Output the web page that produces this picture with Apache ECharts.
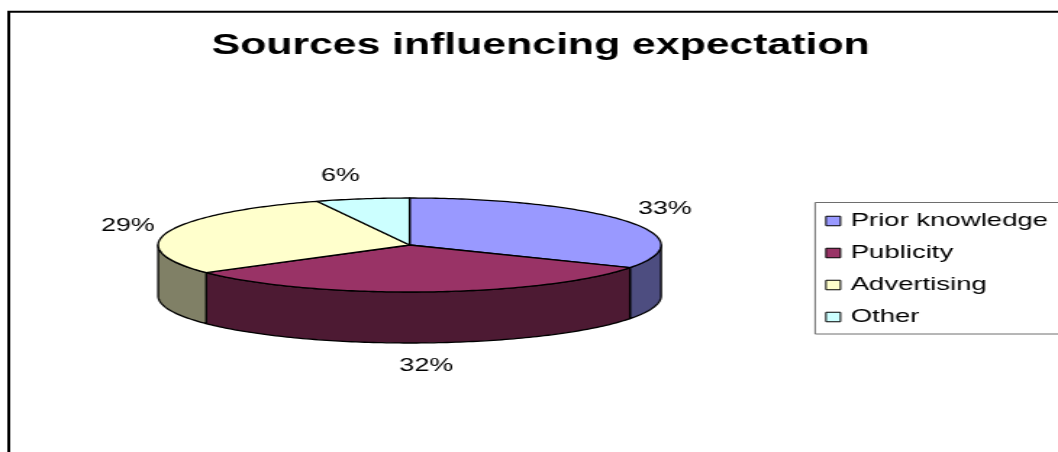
<!DOCTYPE html>
<html>
<head>
<meta charset="utf-8">
<title>Sources influencing expectation</title>
<script src="https://cdn.jsdelivr.net/npm/echarts@6/dist/echarts.min.js"></script>
<style>
  html, body { margin: 0; padding: 0; background: #fff; overflow: hidden; width: 1058px; height: 452px; }
  /* the chart is laid out on a narrower canvas and widened, giving the broad letterforms;
     it runs a little past the right edge of the page, where the frames are cut off */
  #chart { width: 760px; height: 452px; transform: scaleX(1.449315); transform-origin: 0 0; }
</style>
</head>
<body>
<div id="chart"></div>
<script>
const categories = ['Prior knowledge', 'Publicity', 'Advertising', 'Other'];
const shares = [33, 32, 29, 6];
const topColors = ['#9999FF', '#993366', '#FFFFCC', '#CCFFFF'];
const sideColors = ['#4D4D80', '#4D1A33', '#808066', '#668080'];
const chartTitle = 'Sources influencing expectation';

// 3D pie geometry (canvas units)
const CX = 282.6, CY = 245, RX = 173.5, RY = 47, DEPTH = 51;
const LABEL_GAP_X = 9.7, LABEL_GAP_Y = 23;
const FONT = '"Liberation Sans", Arial, sans-serif';

const total = shares.reduce((a, b) => a + b, 0);
const starts = shares.map((_, i) => shares.slice(0, i).reduce((a, b) => a + b, 0));

function pt(a, dy) {
  return [CX + RX * Math.sin(a), CY - RY * Math.cos(a) + (dy || 0)];
}
function arc(a0, a1, dy) {
  const n = Math.max(2, Math.ceil((a1 - a0) / (Math.PI / 180)));
  const out = [];
  for (let k = 0; k <= n; k++) out.push(pt(a0 + (a1 - a0) * k / n, dy));
  return out;
}

function sliceRenderer(i) {
  return function (params, api) {
    const v = api.value(0);
    const a0 = starts[i] / total * Math.PI * 2;
    const a1 = (starts[i] + v) / total * Math.PI * 2;
    const children = [];
    // outer wall, only the part facing the viewer
    const p = Math.max(a0, Math.PI / 2), q = Math.min(a1, Math.PI * 1.5);
    if (p < q) {
      const wall = arc(p, q, 0).concat(arc(p, q, DEPTH).reverse());
      children.push({
        type: 'polygon', z2: 1,
        shape: { points: wall },
        style: { fill: sideColors[i], stroke: '#000', lineWidth: 1.3, lineJoin: 'round' }
      });
    }
    // top face
    children.push({
      type: 'polygon', z2: 10,
      shape: { points: [[CX, CY]].concat(arc(a0, a1, 0)) },
      style: { fill: topColors[i], stroke: '#000', lineWidth: 1.3, lineJoin: 'round' }
    });
    // percentage label
    const m = (a0 + a1) / 2;
    const s = Math.sin(m), c = Math.cos(m);
    children.push({
      type: 'text', z2: 20,
      style: {
        text: Math.round(v / total * 100) + '%',
        x: CX + (RX + LABEL_GAP_X) * s,
        y: CY - (RY + LABEL_GAP_Y) * c + (c < 0 ? DEPTH : 0),
        align: s > 0.1 ? 'left' : (s < -0.1 ? 'right' : 'center'),
        verticalAlign: 'middle',
        fontSize: 18.5,
        fontFamily: FONT,
        fill: '#000'
      }
    });
    return { type: 'group', children: children };
  };
}

const chart = echarts.init(document.getElementById('chart'), null, { renderer: 'canvas' });
chart.setOption({
  animation: false,
  backgroundColor: '#fff',
  color: topColors,
  graphic: [
    {
      type: 'rect', silent: true, z: 0,
      shape: { x: 6, y: 11.7, width: 2000, height: 2000 },
      style: { fill: 'none', stroke: '#000', lineWidth: 2 }
    },
    {
      // legend frame, running off the right edge
      type: 'rect', silent: true, z: 0,
      shape: { x: 562.4, y: 202.5, width: 400, height: 131.5 },
      style: { fill: 'none', stroke: '#6e6e6e', lineWidth: 1 }
    },
    {
      type: 'text', silent: true,
      style: {
        text: chartTitle, x: 373, y: 46,
        align: 'center', verticalAlign: 'middle',
        fontSize: 29.5, fontWeight: 'bold', fontFamily: FONT, fill: '#000'
      }
    }
  ],
  legend: {
    orient: 'vertical',
    left: 562.4,
    top: 202.5,
    data: categories,
    icon: 'rect',
    itemWidth: 10,
    itemHeight: 9.5,
    itemGap: 13,
    padding: [9, 0, 8, 7],
    selectedMode: false,
    itemStyle: { borderColor: '#000', borderWidth: 1 },
    textStyle: { fontSize: 19, fontFamily: FONT, color: '#000', padding: [0, 0, 0, 2] }
  },
  series: categories.map((name, i) => ({
    type: 'custom',
    name: name,
    coordinateSystem: 'none',
    itemStyle: { color: topColors[i] },
    renderItem: sliceRenderer(i),
    data: [shares[i]]
  }))
});
</script>
</body>
</html>
